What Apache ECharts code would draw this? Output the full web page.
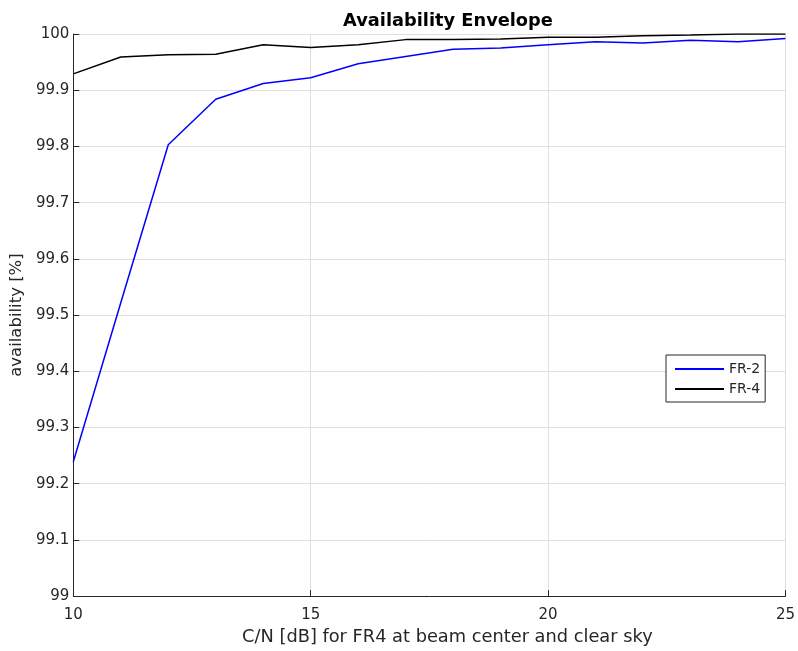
<!DOCTYPE html>
<html>
<head>
<meta charset="utf-8">
<script src="https://cdn.jsdelivr.net/npm/echarts@6/dist/echarts.min.js"></script>
<style>
  html, body { margin: 0; padding: 0; background: #fff; }
  #chart { width: 798px; height: 651px; }
</style>
</head>
<body>
<div id="chart"></div>
<script>
// C/N values in dB
const cnValues = [10, 11, 12, 13, 14, 15, 16, 17, 18, 19, 20, 21, 22, 23, 24, 25];
// availability [%] per frequency reuse scheme
const fr2Availability = [99.239, 99.522, 99.803, 99.884, 99.912, 99.922, 99.947, 99.960, 99.973, 99.975, 99.981, 99.986, 99.984, 99.989, 99.986, 99.992];
const fr4Availability = [99.929, 99.959, 99.963, 99.964, 99.981, 99.976, 99.981, 99.990, 99.990, 99.991, 99.994, 99.994, 99.997, 99.998, 100.0, 100.0];
const seriesNames = ['FR-2', 'FR-4'];

const font = 'DejaVu Sans';
const textColor = '#262626';

const toPairs = (xs, ys) => xs.map((x, i) => [x, ys[i]]);

const chart = echarts.init(document.getElementById('chart'), null, { renderer: 'canvas' });
chart.setOption({
  animation: false,
  backgroundColor: '#ffffff',
  title: {
    text: 'Availability Envelope',
    left: 443, top: 7, textAlign: 'center',
    textStyle: { fontFamily: font, fontSize: 17.8, fontWeight: 'bold', color: '#000' }
  },
  grid: { left: 73, right: 11, top: 34, bottom: 53, containLabel: false },
  legend: {
    orient: 'vertical',
    left: 666, top: 355,
    padding: [7, 5, 6, 9],
    itemGap: 6,
    itemWidth: 49, itemHeight: 2,
    icon: 'rect',
    borderColor: textColor, borderWidth: 1,
    backgroundColor: '#fff',
    textStyle: { fontFamily: font, fontSize: 14, lineHeight: 14, color: textColor },
    data: seriesNames
  },
  xAxis: {
    type: 'value', min: 10, max: 25, interval: 5,
    name: 'C/N [dB] for FR4 at beam center and clear sky',
    nameLocation: 'middle', nameGap: 28,
    nameTextStyle: { fontFamily: font, fontSize: 17.8, color: textColor, padding: [0, 0, 0, 36] },
    axisLine: { show: true, onZero: false, lineStyle: { color: textColor, width: 1 } },
    axisTick: { show: true, inside: true, length: 6, lineStyle: { color: textColor } },
    axisLabel: { fontFamily: font, fontSize: 15, color: textColor, margin: 12 },
    splitLine: { show: true, lineStyle: { color: '#dfdfdf', width: 1 } }
  },
  yAxis: {
    type: 'value', min: 99, max: 100, interval: 0.1,
    name: 'availability [%]',
    nameLocation: 'middle', nameGap: 40,
    nameTextStyle: { fontFamily: font, fontSize: 16.5, color: textColor },
    axisLine: { show: true, onZero: false, lineStyle: { color: textColor, width: 1 } },
    axisTick: { show: true, inside: true, length: 6, lineStyle: { color: textColor } },
    axisLabel: {
      fontFamily: font, fontSize: 15, color: textColor, margin: 4,
      formatter: v => String(Math.round(v * 10) / 10)
    },
    splitLine: { show: true, lineStyle: { color: '#dfdfdf', width: 1 } }
  },
  series: [
    {
      name: seriesNames[0], type: 'line', data: toPairs(cnValues, fr2Availability),
      symbol: 'none', lineStyle: { color: '#0000ff', width: 1.5 }, itemStyle: { color: '#0000ff' }
    },
    {
      name: seriesNames[1], type: 'line', data: toPairs(cnValues, fr4Availability),
      symbol: 'none', lineStyle: { color: '#000000', width: 1.5 }, itemStyle: { color: '#000000' }
    }
  ]
});
</script>
</body>
</html>
